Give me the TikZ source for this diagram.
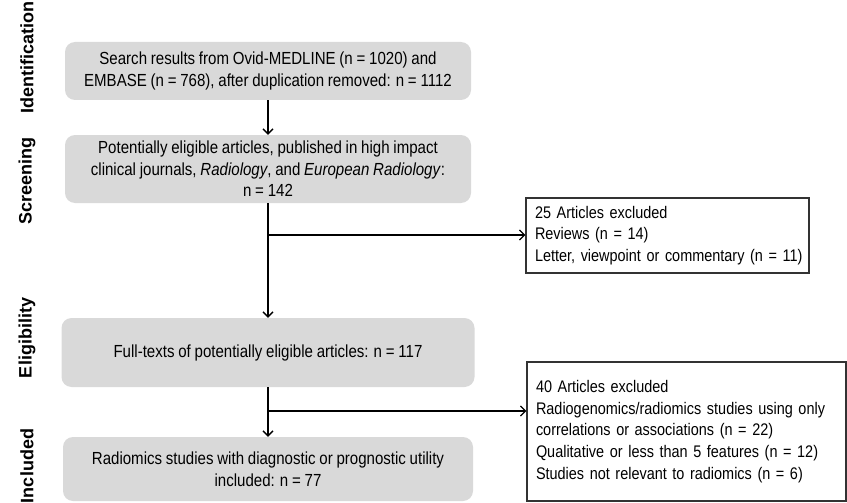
\documentclass[tikz,border=0pt]{standalone}
\usepackage{fontspec}
\setmainfont{Liberation Sans}
\newfontfamily\narrowfont[FakeStretch=0.86,WordSpace=0.9]{Liberation Sans}
\usetikzlibrary{arrows.meta}
\definecolor{boxgrey}{HTML}{D9D9D9}
\begin{document}
\begin{tikzpicture}[x=1pt,y=-1pt,
  greybox/.style={fill=boxgrey, rounded corners=10pt, align=center, inner sep=0pt, font=\narrowfont\fontsize{17.5}{21.5}\selectfont},
  exclbox/.style={draw=black!80, line width=1.2pt, fill=white, inner xsep=9pt, inner ysep=0pt, font=\narrowfont\fontsize{16.8}{21.8}\selectfont, text width=#1},
  phase/.style={rotate=90, font=\fontsize{18}{20}\selectfont\bfseries},
  flow/.style={line width=1.3pt, -{Straight Barb[length=5pt,width=10pt]}}]
\useasboundingbox (0,0) rectangle (847,503);
% phases
\node[phase] (pid) at (27,58) {Identification};
\node[phase] (psc) at (27,181) {Screening};
\node[phase] (pel) at (27,338) {Eligibility};
\node[phase] (pin) at (27,466) {Included};
% boxes
\node[greybox, minimum width=406pt, minimum height=58pt] (b1) at (268,71)
  {Search results from Ovid-MEDLINE (n = 1020) and\\EMBASE (n = 768), after duplication removed: n = 1112};
\node[greybox, minimum width=406pt, minimum height=68pt] (b2) at (268,169)
  {Potentially eligible articles, published in high impact\\clinical journals, \textit{Radiology}, and \textit{European Radiology}:\\n = 142};
\node[greybox, minimum width=413pt, minimum height=69pt] (b3) at (268,352.5)
  {Full-texts of potentially eligible articles: n = 117};
\node[greybox, minimum width=410pt, minimum height=64pt] (b4) at (268,469)
  {Radiomics studies with diagnostic or prognostic utility\\included: n = 77};
\node[exclbox=265pt, minimum width=283pt, minimum height=75pt] (b5) at (667.5,235.5)
  {\begin{tabular}{@{}l@{}}25 Articles excluded\\Reviews (n = 14)\\Letter, viewpoint or commentary (n = 11)\end{tabular}};
\node[exclbox=301pt, minimum width=319pt, minimum height=139pt] (b6) at (686.5,431.5)
  {\begin{tabular}{@{}l@{}}40 Articles excluded\\Radiogenomics/radiomics studies using only\\correlations or associations (n = 22)\\Qualitative or less than 5 features (n = 12)\\Studies not relevant to radiomics (n = 6)\end{tabular}};
% connectors
\coordinate (j1) at (268,235);
\coordinate (j2) at (268,411);
\draw[flow] (b1.south) -- (b2.north);
\draw[flow] (b2.south) -- (b3.north);
\draw[flow] (j1) -- (b5.west |- j1);
\draw[flow] (b3.south) -- (b4.north);
\draw[flow] (j2) -- (b6.west |- j2);
\end{tikzpicture}
\end{document}
